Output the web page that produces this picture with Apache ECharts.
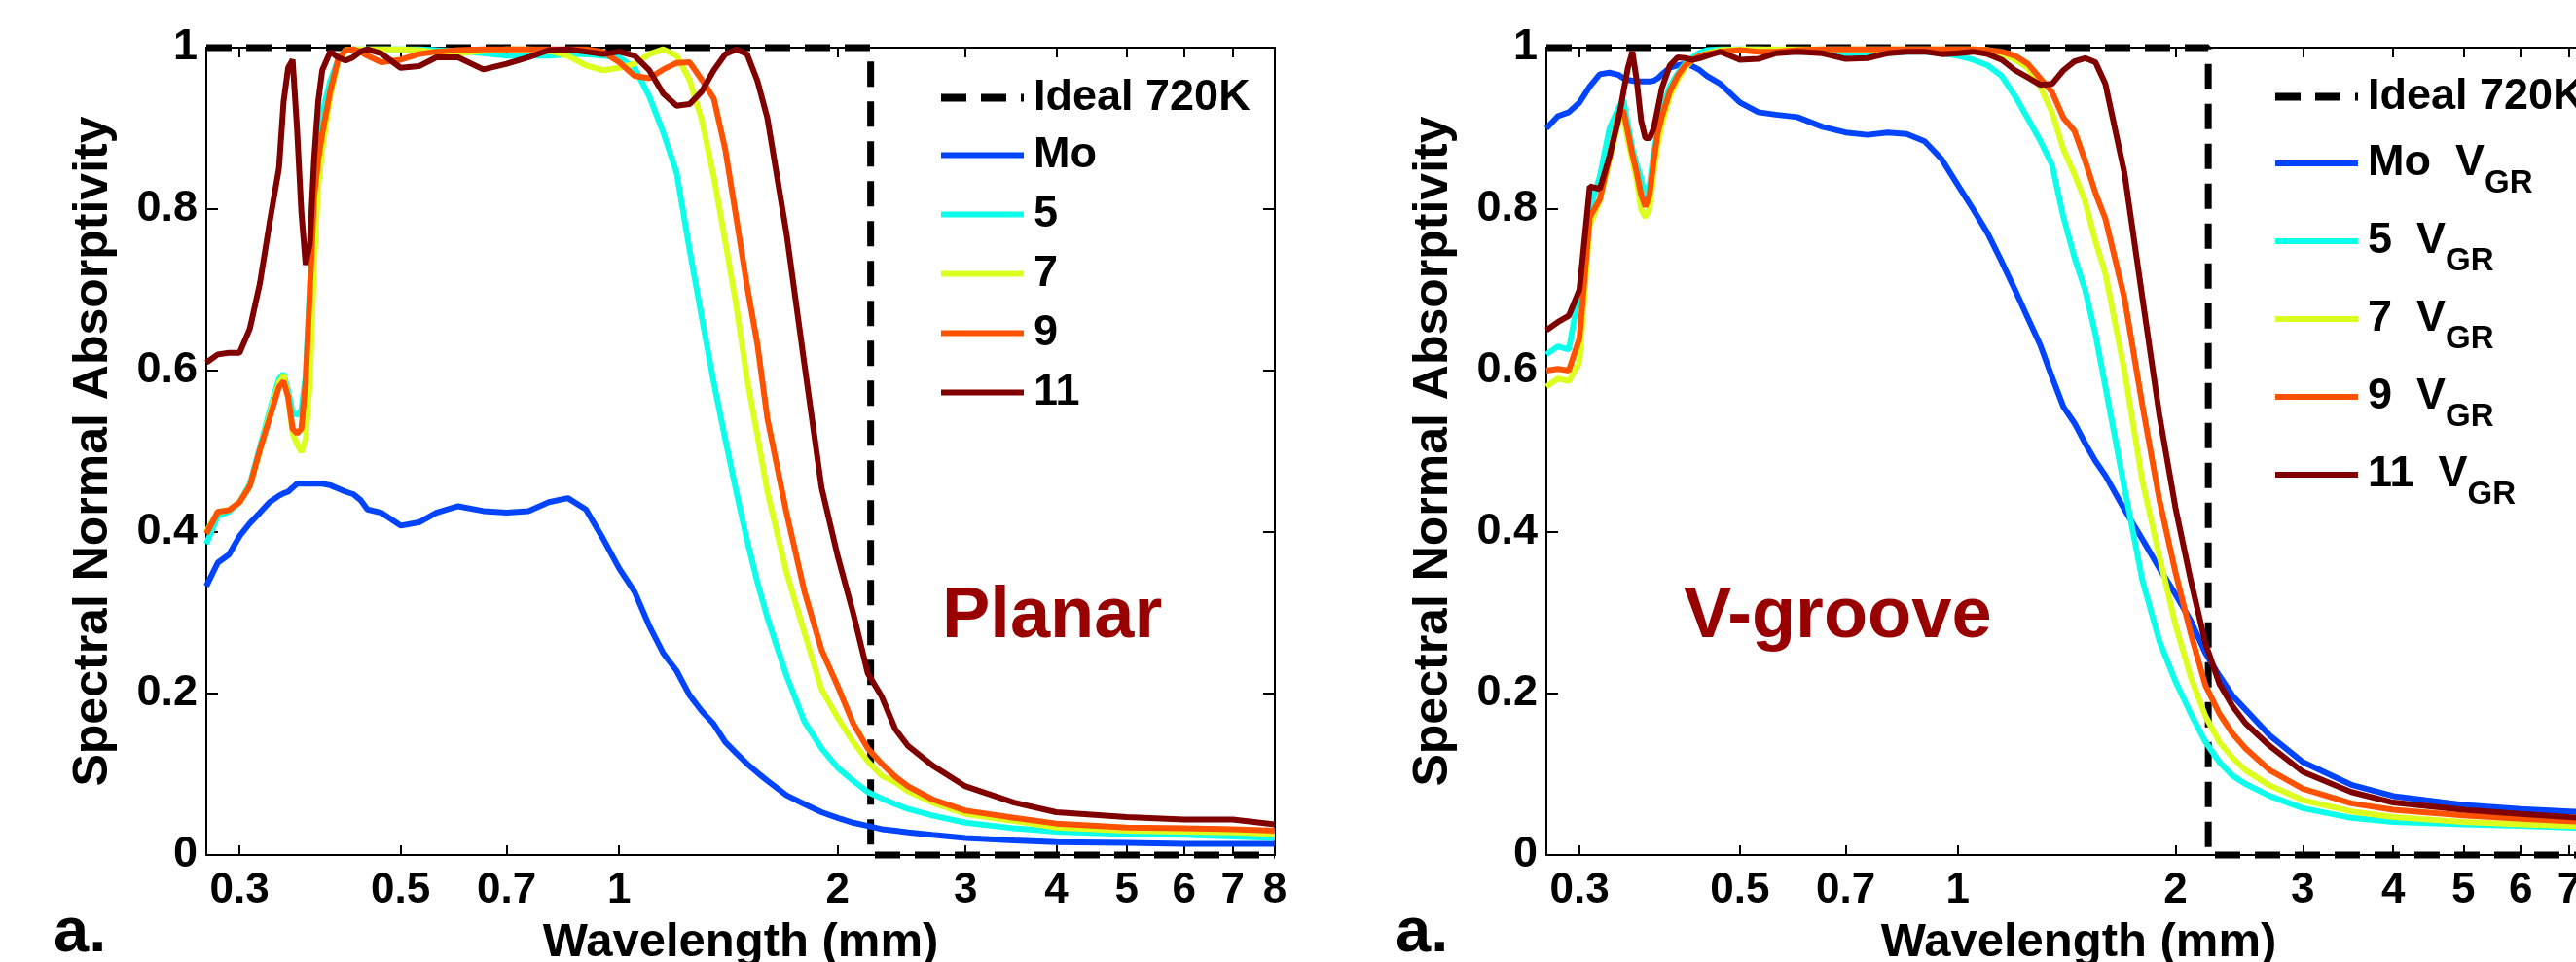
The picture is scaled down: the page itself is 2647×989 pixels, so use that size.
<!DOCTYPE html>
<html><head><meta charset="utf-8">
<script src="https://cdn.jsdelivr.net/npm/echarts@6/dist/echarts.min.js"></script>
<style>html,body{margin:0;padding:0;background:#fff}#c{width:2647px;height:989px}</style>
</head><body><div id="c"></div>
<script>
// wavelength grid (um)
const WL = [0.27,0.28,0.29,0.30,0.31,0.32,0.33,0.34,
  0.345,0.35,0.355,0.36,0.365,0.37,0.375,0.38,0.385,0.39,
  0.40,0.41,0.42,0.43,0.44,0.45,
  0.47,0.50,0.53,0.56,0.60,0.65,0.70,0.75,0.80,0.85,0.90,0.95,
  1.0,1.05,1.1,1.15,1.2,1.25,1.3,1.35,1.4,1.45,1.5,1.55,1.6,
  1.7,1.8,1.9,2.0,2.1,2.2,2.3,2.4,2.5,2.7,
  3.0,3.5,4.0,5.0,6.0,7.0,8.0];
const X_TICKS = [0.3,0.5,0.7,1,2,3,4,5,6,7,8];
const IDEAL_X = [0.27, 2.22, 2.22, 8];
const IDEAL_Y = [1, 1, 0, 0];

// Planar panel
const PL_MO = [0.333,0.362,0.372,0.395,0.411,0.424,0.437,0.445,
  0.448,0.450,0.455,0.460,0.460,0.460,0.460,0.460,0.460,0.460,
  0.458,0.454,0.450,0.447,0.440,0.428,
  0.424,0.408,0.412,0.424,0.432,0.426,0.424,0.426,0.437,0.442,0.428,0.392,
  0.355,0.326,0.284,0.250,0.228,0.198,0.178,0.162,0.140,0.126,0.113,0.102,0.092,
  0.074,0.063,0.053,0.046,0.040,0.036,0.032,0.030,0.028,0.025,
  0.021,0.018,0.016,0.015,0.014,0.014,0.014];
const PL_5 = [0.385,0.420,0.425,0.437,0.460,0.505,0.550,0.590,
  0.596,0.575,0.548,0.545,0.551,0.594,0.705,0.815,0.874,0.920,
  0.959,0.985,0.997,0.998,0.998,0.998,
  0.998,0.998,0.998,0.997,0.996,0.993,0.990,0.990,0.990,0.992,0.992,0.990,
  0.988,0.975,0.940,0.895,0.845,0.750,0.665,0.585,0.515,0.450,0.390,0.338,0.294,
  0.222,0.165,0.132,0.108,0.092,0.078,0.070,0.063,0.057,0.049,
  0.040,0.033,0.029,0.026,0.025,0.023,0.021];
const PL_7 = [0.400,0.425,0.427,0.437,0.457,0.500,0.545,0.585,
  0.594,0.567,0.522,0.509,0.499,0.515,0.587,0.730,0.828,0.874,
  0.940,0.982,0.997,0.998,0.998,0.998,
  0.998,0.998,0.997,0.994,0.993,0.996,0.998,0.998,0.996,0.990,0.978,0.972,
  0.975,0.980,0.992,0.998,0.990,0.960,0.910,0.840,0.760,0.680,0.590,0.520,0.450,
  0.350,0.275,0.205,0.170,0.140,0.116,0.098,0.090,0.079,0.065,
  0.051,0.042,0.034,0.030,0.029,0.028,0.026];
const PL_9 = [0.398,0.425,0.427,0.437,0.457,0.502,0.541,0.580,
  0.587,0.567,0.528,0.522,0.528,0.587,0.698,0.815,0.861,0.894,
  0.946,0.985,0.997,0.998,0.995,0.990,
  0.982,0.985,0.992,0.995,0.997,0.998,0.998,0.998,0.998,0.998,0.998,0.995,
  0.982,0.965,0.962,0.973,0.981,0.982,0.960,0.937,0.874,0.789,0.705,0.633,0.541,
  0.424,0.326,0.254,0.209,0.163,0.132,0.113,0.097,0.085,0.069,
  0.055,0.046,0.039,0.034,0.033,0.032,0.030];
const PL_11 = [0.610,0.620,0.622,0.622,0.652,0.708,0.783,0.851,
  0.933,0.975,0.985,0.900,0.796,0.731,0.757,0.861,0.933,0.972,
  0.995,0.988,0.984,0.988,0.995,0.998,
  0.993,0.975,0.977,0.988,0.988,0.973,0.980,0.988,0.997,0.998,0.995,0.992,
  0.995,0.990,0.972,0.943,0.928,0.930,0.946,0.972,0.992,0.998,0.992,0.959,0.913,
  0.770,0.607,0.455,0.370,0.300,0.225,0.196,0.156,0.135,0.111,
  0.085,0.065,0.053,0.047,0.044,0.044,0.038];

// V-groove panel
const PR_MO = [0.900,0.915,0.920,0.932,0.952,0.967,0.969,0.966,
  0.962,0.960,0.959,0.958,0.958,0.958,0.958,0.959,0.962,0.967,
  0.975,0.978,0.980,0.977,0.972,0.965,
  0.955,0.932,0.920,0.917,0.914,0.902,0.895,0.892,0.895,0.893,0.884,0.862,
  0.830,0.800,0.770,0.735,0.700,0.665,0.632,0.592,0.555,0.535,0.510,0.488,0.470,
  0.428,0.391,0.355,0.323,0.290,0.250,0.222,0.197,0.180,0.148,
  0.115,0.087,0.073,0.062,0.057,0.054,0.051];
const PR_5 = [0.620,0.630,0.626,0.700,0.800,0.840,0.900,0.926,
  0.935,0.905,0.875,0.855,0.838,0.812,0.830,0.870,0.900,0.925,
  0.952,0.968,0.980,0.988,0.994,0.997,
  0.998,0.998,0.998,0.997,0.995,0.995,0.993,0.993,0.993,0.995,0.995,0.993,
  0.990,0.985,0.978,0.965,0.940,0.912,0.885,0.855,0.790,0.740,0.700,0.645,0.580,
  0.455,0.340,0.265,0.215,0.175,0.140,0.115,0.098,0.088,0.073,
  0.058,0.046,0.041,0.038,0.036,0.034,0.033];
const PR_7 = [0.580,0.590,0.587,0.610,0.780,0.810,0.860,0.910,
  0.915,0.885,0.860,0.835,0.800,0.790,0.800,0.845,0.880,0.905,
  0.940,0.960,0.975,0.985,0.990,0.993,
  0.997,0.998,0.998,0.998,0.998,0.998,0.998,0.998,0.998,0.998,0.998,0.998,
  0.998,0.998,0.997,0.993,0.985,0.975,0.952,0.920,0.874,0.843,0.810,0.760,0.720,
  0.600,0.463,0.370,0.285,0.220,0.172,0.140,0.120,0.105,0.086,
  0.068,0.054,0.047,0.041,0.038,0.036,0.034];
const PR_9 = [0.600,0.602,0.600,0.640,0.790,0.812,0.865,0.918,
  0.922,0.895,0.868,0.845,0.818,0.803,0.818,0.860,0.895,0.915,
  0.946,0.965,0.978,0.985,0.990,0.992,
  0.995,0.997,0.995,0.995,0.997,0.998,0.998,0.998,0.998,0.998,0.998,0.998,
  0.998,0.998,0.997,0.995,0.990,0.980,0.962,0.945,0.913,0.897,0.860,0.820,0.788,
  0.690,0.557,0.440,0.350,0.274,0.210,0.175,0.150,0.132,0.105,
  0.082,0.064,0.056,0.049,0.045,0.042,0.039];
const PR_11 = [0.650,0.660,0.668,0.700,0.828,0.825,0.865,0.913,
  0.945,0.975,0.995,0.959,0.910,0.888,0.888,0.900,0.925,0.950,
  0.978,0.988,0.987,0.985,0.987,0.990,
  0.995,0.985,0.986,0.993,0.995,0.993,0.986,0.987,0.993,0.995,0.995,0.992,
  0.993,0.995,0.992,0.985,0.972,0.963,0.954,0.955,0.972,0.983,0.987,0.982,0.955,
  0.845,0.690,0.545,0.430,0.340,0.262,0.212,0.184,0.163,0.135,
  0.103,0.078,0.065,0.056,0.051,0.047,0.044];

const NAMES_L = ['Ideal 720K','Mo','5','7','9','11'];
const NAMES_R = ['Ideal 720K','Mo  V_GR','5  V_GR','7  V_GR','9  V_GR','11  V_GR'];
const COLORS = ['#000000','#0044ff','#0cffea','#dcff1e','#ff5200','#800000'];

const FONT = '"Liberation Sans", Arial, Helvetica, sans-serif';
const AX = {color:'#000', width:2};
const DASH_ICON = 'path://M0 0h26v8h-26zM41 0h26v8h-26zM82 0h3v8h-3z';

function xAx(gi, pos, main) {
  return {
    type:'log', logBase:10, gridIndex:gi, position:pos, min:0.27, max:8,
    axisLine:{show:true, onZero:false, lineStyle:AX},
    axisTick:{show:true, inside:true, length:10, lineStyle:AX, customValues:X_TICKS},
    axisLabel:{show:main, customValues:X_TICKS, margin:15, color:'#000', fontSize:44,
      fontWeight:'bold', fontFamily:FONT, formatter:v=>String(+(+v).toPrecision(4))},
    minorTick:{show:false}, splitLine:{show:false}, minorSplitLine:{show:false},
    name: main ? 'Wavelength (mm)' : '', nameLocation:'middle', nameGap:66,
    nameTextStyle:{fontSize:49, fontWeight:'bold', color:'#000', fontFamily:FONT}
  };
}
function yAx(gi, pos, main) {
  return {
    type:'value', gridIndex:gi, position:pos, min:0, max:1, interval:0.2,
    axisLine:{show:true, onZero:false, lineStyle:AX},
    axisTick:{show:true, inside:true, length:12, lineStyle:AX},
    axisLabel:{show:main, margin:9, color:'#000', fontSize:45, fontWeight:'bold', fontFamily:FONT},
    splitLine:{show:false},
    name: main ? 'Spectral Normal Absorptivity' : '', nameLocation:'middle', nameGap:91, nameRotate:90,
    nameTextStyle:{fontSize:50, fontWeight:'bold', color:'#000', fontFamily:FONT}
  };
}
function pts(xs, ys){ return xs.map((x,i)=>[x, ys[i]]); }
function mk(name, xs, ys, color, ai, dashed) {
  return {
    type:'line', name, xAxisIndex:ai, yAxisIndex:ai, data:pts(xs, ys),
    symbol:'none', showSymbol:false, animation:false, clip:!dashed,
    lineStyle:{color, width: dashed ? 7 : 6, type: dashed ? [26,15] : 'solid', cap:'butt'},
    itemStyle:{color}
  };
}
const SER_L = [PL_MO, PL_5, PL_7, PL_9, PL_11];
const SER_R = [PR_MO, PR_5, PR_7, PR_9, PR_11];
const series = [];
series.push(mk(NAMES_L[0], IDEAL_X, IDEAL_Y, COLORS[0], 0, true));
SER_L.forEach((s,i)=>series.push(mk(NAMES_L[i+1], WL, s, COLORS[i+1], 0, false)));
series.push(mk(NAMES_R[0], IDEAL_X, IDEAL_Y, COLORS[0], 2, true));
SER_R.forEach((s,i)=>series.push(mk(NAMES_R[i+1], WL, s, COLORS[i+1], 2, false)));

const TXT = {fontSize:45, fontWeight:'bold', color:'#000', fontFamily:FONT, lineHeight:45, padding:[0,0,0,5]};
const gridBase = {outerBoundsMode:'none', containLabel:false};

const chart = echarts.init(document.getElementById('c'), null, {renderer:'canvas'});
chart.setOption({
  backgroundColor:'#fff',
  animation:false,
  grid:[
    Object.assign({left:212, top:49, width:1098, height:830}, gridBase),
    Object.assign({left:212, top:49, width:1098, height:830}, gridBase),
    Object.assign({left:1589, top:49, width:1094, height:830}, gridBase),
    Object.assign({left:1589, top:49, width:1094, height:830}, gridBase)
  ],
  xAxis:[xAx(0,'bottom',true), xAx(1,'top',false), xAx(2,'bottom',true), xAx(3,'top',false)],
  yAxis:[yAx(0,'left',true), yAx(1,'right',false), yAx(2,'left',true), yAx(3,'right',false)],
  legend:[
    {orient:'vertical', left:967, top:78, padding:0, itemWidth:85, itemHeight:8, itemGap:0,
     selectedMode:false, data:[{name:NAMES_L[0], icon:DASH_ICON}], textStyle:TXT},
    {orient:'vertical', left:967, top:137, padding:0, itemWidth:85, itemHeight:6, itemGap:16,
     selectedMode:false, icon:'rect', data:NAMES_L.slice(1), textStyle:TXT},
    {orient:'vertical', left:2338, top:77, padding:0, itemWidth:85, itemHeight:8, itemGap:0,
     selectedMode:false, data:[{name:NAMES_R[0], icon:DASH_ICON}], textStyle:TXT},
    {orient:'vertical', left:2338, top:131, padding:0, itemWidth:85, itemHeight:6, itemGap:6,
     selectedMode:false, icon:'rect', data:NAMES_R.slice(1),
     formatter:(n)=>{ const p=n.split('_'); return '{m|'+p[0]+'}{s|'+p[1]+'}'; },
     textStyle:{fontSize:45, fontWeight:'bold', color:'#000', fontFamily:FONT, lineHeight:74, padding:[0,0,0,5],
       rich:{
         m:{fontSize:45, fontWeight:'bold', color:'#000', fontFamily:FONT, lineHeight:74, verticalAlign:'middle'},
         s:{fontSize:33, fontWeight:'bold', color:'#000', fontFamily:FONT, lineHeight:26, verticalAlign:'bottom'}
       }}}
  ],
  graphic:[
    {type:'text', left:968, top:598, style:{text:'Planar', fill:'#990000', font:'bold 74px '+FONT}},
    {type:'text', left:1730, top:598, style:{text:'V-groove', fill:'#990000', font:'bold 74px '+FONT}},
    {type:'text', left:55, top:928, style:{text:'a.', fill:'#000', font:'bold 65px '+FONT}},
    {type:'text', left:1434, top:928, style:{text:'a.', fill:'#000', font:'bold 65px '+FONT}}
  ],
  series
});
</script></body></html>
